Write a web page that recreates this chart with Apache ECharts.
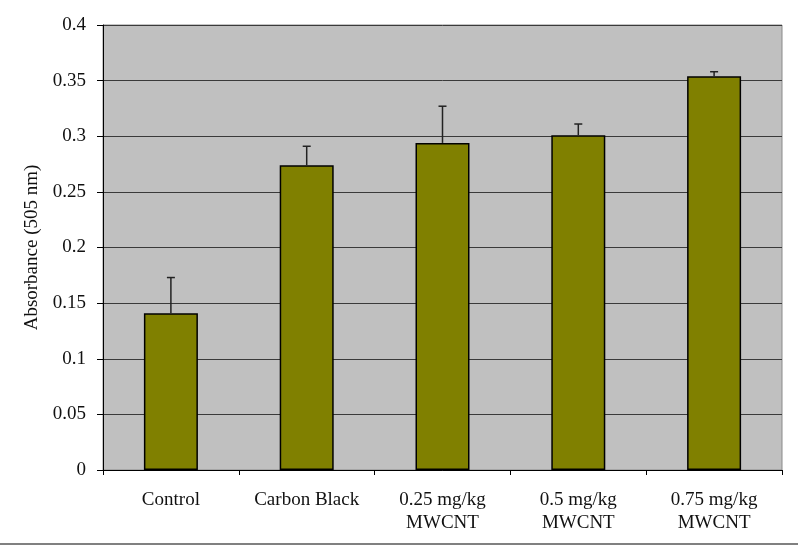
<!DOCTYPE html>
<html>
<head>
<meta charset="utf-8">
<script src="https://cdn.jsdelivr.net/npm/echarts@6/dist/echarts.min.js"></script>
<style>
html,body{margin:0;padding:0;background:#fff;}
#main{width:800px;height:558px;}
</style>
</head>
<body>
<div id="main"></div>
<script>
var categories = ['Control', 'Carbon Black', '0.25 mg/kg\nMWCNT', '0.5 mg/kg\nMWCNT', '0.75 mg/kg\nMWCNT'];
var absorbance = [0.141, 0.274, 0.294, 0.301, 0.354];
var errUp = [0.032, 0.017, 0.033, 0.010, 0.004];
var yTicks = [0, 0.05, 0.1, 0.15, 0.2, 0.25, 0.3, 0.35, 0.4];

initPage();

function initPage(){
	var myChart = echarts.init(document.getElementById('main'));
	var errData = [];
	for(var i=0;i<absorbance.length;i++){
		errData.push([i, absorbance[i], absorbance[i]+errUp[i]]);
	}
	var font = '"Liberation Serif", "DejaVu Serif", serif';
	var option = {
		animation: false,
		textStyle: {fontFamily: font},
		grid: {
			left: 103,
			right: 18,
			top: 25,
			bottom: 88,
			show: true,
			backgroundColor: '#c0c0c0',
			borderColor: '#8a8a8a',
			borderWidth: 1
		},
		xAxis: {
			type: 'category',
			data: categories,
			axisLine: {lineStyle: {color: '#000', width: 1}},
			axisTick: {show: true, interval: 0, length: 5, lineStyle: {color: '#000'}},
			axisLabel: {
				interval: 0,
				hideOverlap: false,
				color: '#111',
				fontFamily: font,
				fontSize: 19,
				margin: 19,
				lineHeight: 23
			}
		},
		yAxis: {
			type: 'value',
			min: yTicks[0],
			max: yTicks[yTicks.length-1],
			interval: 0.05,
			name: 'Absorbance (505 nm)',
			nameLocation: 'middle',
			nameGap: 57,
			nameTextStyle: {color: '#111', fontFamily: font, fontSize: 19},
			axisLine: {show: true, lineStyle: {color: '#000', width: 1}},
			axisTick: {show: true, length: 6, lineStyle: {color: '#000'}},
			axisLabel: {color: '#111', fontFamily: font, fontSize: 19, margin: 17},
			splitLine: {lineStyle: {color: '#3a3a3a', width: 1}}
		},
		series: [
			{
				name: 'Absorbance',
				type: 'bar',
				data: absorbance,
				barWidth: 54,
				itemStyle: {color: '#808000', borderColor: '#000', borderWidth: 1.5}
			},
			{
				name: 'error',
				type: 'custom',
				data: errData,
				z: 5,
				renderItem: function (params, api) {
					var x = api.value(0);
					var lo = api.coord([x, api.value(1)]);
					var hi = api.coord([x, api.value(2)]);
					var style = {stroke: '#222', lineWidth: 1.5};
					return {
						type: 'group',
						children: [
							{type: 'line', shape: {x1: lo[0], y1: lo[1], x2: hi[0], y2: hi[1]}, style: style},
							{type: 'line', shape: {x1: hi[0]-4, y1: hi[1], x2: hi[0]+4, y2: hi[1]}, style: style}
						]
					};
				}
			}
		],
		graphic: [
			{type: 'line', shape: {x1: 0, y1: 544, x2: 798, y2: 544}, style: {stroke: '#808080', lineWidth: 2}}
		]
	};
	myChart.setOption(option);
}
</script>
</body>
</html>
